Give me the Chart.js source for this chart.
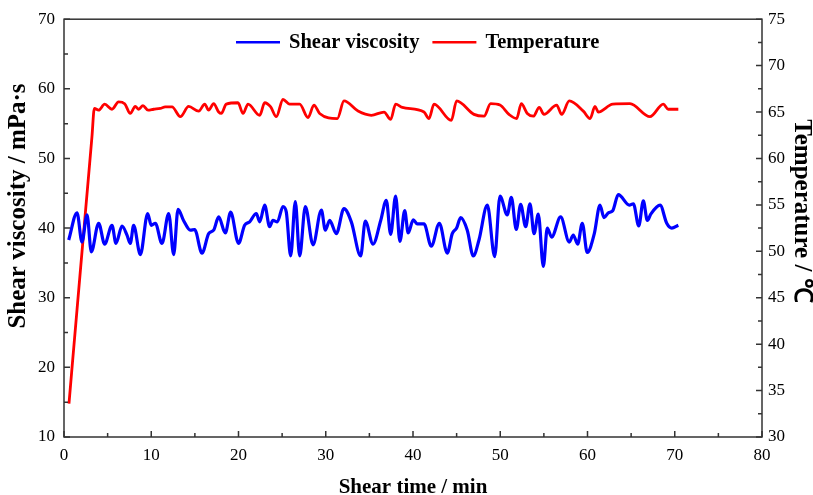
<!DOCTYPE html>
<html>
<head>
<meta charset="utf-8">
<script src="https://cdn.jsdelivr.net/npm/chart.js@4.4.1/dist/chart.umd.min.js"></script>
<style>
  html, body { margin: 0; padding: 0; background: #fff; }
  #wrap { width: 813px; height: 495px; }
</style>
</head>
<body>
<div id="wrap"><canvas id="chart"></canvas></div>
<script>
// Shear viscosity (mPa·s) vs shear time (min)
const viscTime = [0.54, 1.49, 2.06, 2.64, 3.13, 3.97, 4.66, 5.5, 5.96, 6.65, 7.22, 7.6, 7.98, 8.75,
  9.59, 10.0, 10.47, 11.23, 12.0, 12.57, 13.07, 13.7, 14.48, 14.97, 15.82, 16.58, 17.15, 17.73,
  18.49, 19.1, 20.0, 20.7, 21.28, 22.04, 22.43, 23.0, 23.57, 23.95, 24.45, 25.1, 25.48, 25.98,
  26.51, 27.01, 27.66, 28.54, 29.5, 29.95, 30.45, 31.21, 32.09, 32.93, 34.0, 34.53, 35.42,
  36.3, 36.94, 37.44, 38.01, 38.5, 39.05, 39.45, 40.03, 40.49, 41.26, 42.1, 43.02, 43.93,
  44.5, 45.0, 45.46, 46.22, 46.91, 47.56, 48.52, 49.36, 49.97, 50.8, 51.27, 51.84, 52.34,
  52.91, 53.41, 53.87, 54.36, 54.94, 55.39, 55.89, 56.92, 57.91, 58.37, 58.87, 59.4, 59.97,
  60.78, 61.43, 61.89, 62.39, 62.89, 63.53, 64.8, 65.26, 65.87, 66.4, 66.86, 67.25, 68.32,
  69.08, 69.66, 70.41];
const viscValues = [38.3, 42.2, 38.0, 41.9, 36.6, 40.7, 37.7, 40.4, 37.8, 40.3, 39.0, 37.8, 40.4, 36.2,
  42.1, 40.4, 40.7, 37.8, 42.1, 36.2, 42.7, 41.1, 39.7, 39.8, 36.4, 39.2, 39.7, 41.6,
  39.3, 42.3, 37.8, 40.4, 40.9, 42.1, 40.9, 43.3, 40.2, 41.1, 40.9, 43.1, 42.3, 36.0,
  43.8, 36.0, 43.1, 37.6, 42.6, 39.7, 41.1, 39.2, 42.8, 40.9, 36.0, 41.0, 37.7,
  41.1, 44.0, 39.1, 44.6, 38.1, 42.5, 39.3, 41.2, 40.6, 40.6, 37.4, 40.7, 36.4,
  39.2, 40.0, 41.5, 39.7, 36.0, 38.3, 43.3, 35.9, 44.6, 41.9, 44.4, 39.8, 43.4,
  40.2, 43.5, 39.2, 42.0, 34.5, 40.0, 38.7, 41.6, 38.0, 39.0, 37.7, 40.7, 36.5,
  39.2, 43.3, 41.5, 42.2, 42.5, 44.8, 43.3, 43.5, 40.3, 43.9, 41.1, 42.0, 43.3,
  40.7, 40.0, 40.4];

// Temperature (°C) vs shear time (min)
const tempTime = [0.57, 1.5, 2.5, 3.2, 3.48, 3.97, 4.66, 5.5, 6.26, 6.95, 7.6, 8.17, 8.56, 9.05, 9.63, 10.28, 11.04,
  11.61, 12.38, 13.33, 14.29, 15.44, 16.13, 16.58, 17.15, 17.73, 18.03, 18.6, 19.94, 20.52,
  21.09, 22.43, 23.0, 23.69, 24.33, 25.1, 25.86, 27.01, 27.97, 28.65, 29.3, 31.33, 32.09,
  33.7, 35.22, 36.68, 37.44, 38.01, 38.78, 41.26, 41.83, 42.41, 44.39, 45.0, 46.99, 48.14,
  48.9, 49.97, 51.0, 51.88, 52.41, 53.1, 53.79, 54.47, 55.01, 56.47, 57.04, 57.91, 59.52,
  60.29, 60.86, 61.24, 62.89, 64.87, 67.16, 68.69, 69.26, 70.41];
const tempValues = [33.6, 43.8, 54.7, 62.3, 65.4, 65.2, 65.85, 65.3, 66.1, 65.9, 64.85, 65.6, 65.3, 65.7, 65.2, 65.3, 65.4,
  65.55, 65.55, 64.5, 65.6, 65.1, 65.85, 65.2, 65.9, 65.0, 64.85, 65.85, 66.0, 64.85,
  65.85, 64.65, 66.0, 65.55, 64.5, 66.35, 65.85, 65.85, 64.4, 65.75, 64.85, 64.3, 66.2,
  65.1, 64.65, 65.0, 64.2, 65.85, 65.5, 65.0, 64.3, 65.85, 64.1, 66.2, 64.75, 64.55,
  65.9, 65.75, 64.75, 64.3, 65.9, 64.85, 64.55, 65.5, 64.75, 65.75, 64.75, 66.2, 65.1,
  64.3, 65.6, 65.0, 65.85, 65.9, 64.5, 65.85, 65.3, 65.3];

const xTicks = [0, 10, 20, 30, 40, 50, 60, 70, 80];
const leftTicks = [10, 20, 30, 40, 50, 60, 70];
const rightTicks = [30, 35, 40, 45, 50, 55, 60, 65, 70, 75];

const leftTitle = 'Shear viscosity / mPa·s';
const rightTitle = 'Temperature / ℃';

const serif = "'Liberation Serif', 'Times New Roman', serif";

function toPoints(xs, ys) {
    return xs.map((x, i) => ({ x: x, y: ys[i] }));
}

// Frame, inward ticks, y titles and the legend drawn on top of the plot
const framePlugin = {
    id: 'frame',
    afterDraw(chart) {
        const ctx = chart.ctx;
        const a = chart.chartArea;
        const sx = chart.scales.x, sy = chart.scales.y, sy1 = chart.scales.y1;
        ctx.save();
        ctx.strokeStyle = '#333';
        ctx.lineWidth = 1.5;
        ctx.strokeRect(a.left, a.top, a.right - a.left, a.bottom - a.top);

        ctx.beginPath();
        // bottom axis: major every 10, minor every 5
        for (let v = 0; v <= 80; v += 5) {
            const px = sx.getPixelForValue(v);
            const len = v % 10 === 0 ? 6 : 4;
            ctx.moveTo(px, a.bottom);
            ctx.lineTo(px, a.bottom - len);
        }
        // left axis
        for (let v = 10; v <= 70; v += 5) {
            const py = sy.getPixelForValue(v);
            const len = v % 10 === 0 ? 6 : 4;
            ctx.moveTo(a.left, py);
            ctx.lineTo(a.left + len, py);
        }
        // right axis
        for (let v = 30; v <= 75; v += 2.5) {
            const py = sy1.getPixelForValue(v);
            const len = v % 5 === 0 ? 6 : 4;
            ctx.moveTo(a.right, py);
            ctx.lineTo(a.right - len, py);
        }
        ctx.stroke();

        // y axis titles (sit a bit above the middle in the original)
        ctx.fillStyle = '#000';
        ctx.font = 'bold 25px ' + serif;
        ctx.textAlign = 'center';
        ctx.textBaseline = 'middle';
        ctx.save();
        ctx.translate(19, 206);
        ctx.rotate(-Math.PI / 2);
        ctx.fillText(leftTitle, 0, 0);
        ctx.restore();
        ctx.save();
        ctx.translate(801, 211);
        ctx.rotate(Math.PI / 2);
        ctx.fillText(rightTitle, 0, 0);
        ctx.restore();

        // legend
        ctx.font = 'bold 20.5px ' + serif;
        ctx.textAlign = 'left';
        const ly = a.top + 23;
        let lx = a.left + 172;
        chart.data.datasets.forEach(ds => {
            ctx.strokeStyle = ds.borderColor;
            ctx.lineWidth = 2.5;
            ctx.beginPath();
            ctx.moveTo(lx, ly);
            ctx.lineTo(lx + 44, ly);
            ctx.stroke();
            ctx.fillText(ds.label, lx + 53, ly + 1);
            lx += 53 + ctx.measureText(ds.label).width + 13;
        });
        ctx.restore();
    }
};

const ctx = document.getElementById('chart').getContext('2d');
window.myChart = new Chart(ctx, {
    type: 'line',
    data: {
        datasets: [{
            label: 'Shear viscosity',
            data: toPoints(viscTime, viscValues),
            yAxisID: 'y',
            borderColor: '#0000ff',
            borderWidth: 3.2,
            pointRadius: 0,
            cubicInterpolationMode: 'monotone'
        }, {
            label: 'Temperature',
            data: toPoints(tempTime, tempValues),
            yAxisID: 'y1',
            borderColor: '#ff0000',
            borderWidth: 2.8,
            pointRadius: 0,
            cubicInterpolationMode: 'monotone'
        }]
    },
    options: {
        responsive: true,
        maintainAspectRatio: false,
        animation: false,
        layout: { padding: { top: 19, left: 0, right: 0, bottom: 0 } },
        plugins: {
            legend: { display: false },
            tooltip: { enabled: false }
        },
        scales: {
            x: {
                type: 'linear',
                min: 0,
                max: 80,
                afterBuildTicks: scale => { scale.ticks = xTicks.map(v => ({ value: v })); },
                afterFit: scale => { scale.height = 58; },
                grid: { display: false, drawTicks: false },
                border: { display: false },
                ticks: { color: '#000', padding: 8, font: { family: serif, size: 17 } },
                title: {
                    display: true,
                    text: 'Shear time / min',
                    color: '#000',
                    padding: { top: 0, bottom: -3 },
                    font: { family: serif, size: 21, weight: 'bold', lineHeight: 1 }
                }
            },
            y: {
                position: 'left',
                min: 10,
                max: 70,
                afterBuildTicks: scale => { scale.ticks = leftTicks.map(v => ({ value: v })); },
                afterFit: scale => { scale.width = 64; },
                grid: { display: false, drawTicks: false },
                border: { display: false },
                ticks: { color: '#000', padding: 9, font: { family: serif, size: 17 } }
            },
            y1: {
                position: 'right',
                min: 30,
                max: 75,
                afterBuildTicks: scale => { scale.ticks = rightTicks.map(v => ({ value: v })); },
                afterFit: scale => { scale.width = 51; },
                grid: { display: false, drawTicks: false },
                border: { display: false },
                ticks: { color: '#000', padding: 6, font: { family: serif, size: 17 } }
            }
        }
    },
    plugins: [framePlugin]
});
</script>
</body>
</html>
